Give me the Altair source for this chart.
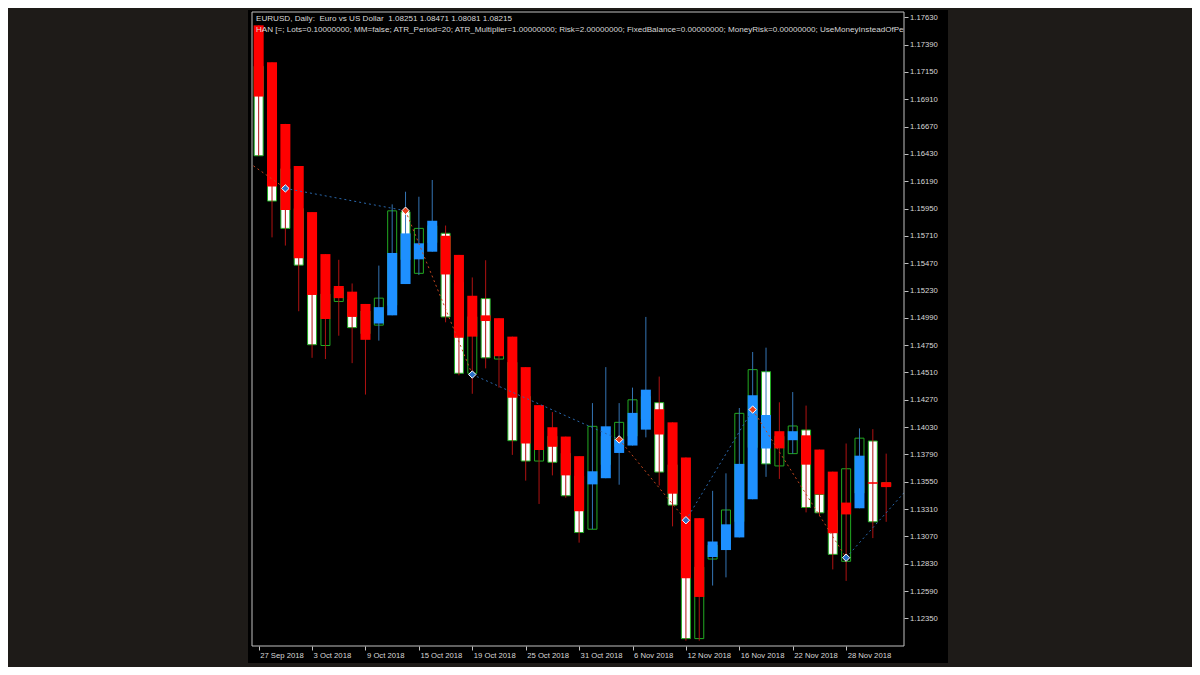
import altair as alt
import pandas as pd

# ---------------- data ----------------
bar_index = list(range(48))

ha_open = [1.17560, 1.17235, 1.16694, 1.16324, 1.15919, 1.15550, 1.15270, 1.15220,
           1.15112, 1.14940, 1.15012, 1.15287, 1.15504, 1.15571, 1.15711, 1.15543,
           1.15184, 1.15012, 1.14987, 1.14825, 1.14557, 1.14223, 1.14029, 1.13947,
           1.13775, 1.13527, 1.13581, 1.13803, 1.13868, 1.14008, 1.14187, 1.14072,
           1.13764, 1.13230, 1.12889, 1.12950, 1.13061, 1.13396, 1.13843, 1.13994,
           1.13915, 1.13958, 1.13833, 1.13639, 1.13367, 1.13317, 1.13546, 1.13546]
ha_close = [1.16934, 1.16145, 1.15937, 1.15514, 1.15191, 1.14980, 1.15163, 1.14998,
            1.14797, 1.15084, 1.15560, 1.15732, 1.15645, 1.15843, 1.15371, 1.14815,
            1.14825, 1.14962, 1.14653, 1.14288, 1.13886, 1.13829, 1.13857, 1.13606,
            1.13291, 1.13642, 1.14037, 1.13922, 1.14155, 1.14359, 1.13965, 1.13445,
            1.12703, 1.12538, 1.13025, 1.13176, 1.13707, 1.14309, 1.14137, 1.13843,
            1.13994, 1.13700, 1.13439, 1.13098, 1.13263, 1.13779, 1.13532, 1.13503]
ha_high = [1.17560, 1.17235, 1.16694, 1.16324, 1.15919, 1.15550, 1.15500, 1.15292,
           1.15112, 1.15449, 1.15987, 1.16098, 1.16054, 1.16201, 1.15801, 1.15543,
           1.15345, 1.15496, 1.14987, 1.14825, 1.14557, 1.14223, 1.14162, 1.13947,
           1.13775, 1.14241, 1.14557, 1.14241, 1.14377, 1.14998, 1.14474, 1.14072,
           1.13764, 1.13230, 1.13470, 1.13624, 1.14198, 1.14690, 1.14728, 1.14248,
           1.14338, 1.14219, 1.13833, 1.13639, 1.13886, 1.14019, 1.14012, 1.13797]
ha_low = [1.16414, 1.15697, 1.15625, 1.15048, 1.14639, 1.14628, 1.14833, 1.14592,
          1.14316, 1.14790, 1.15012, 1.15287, 1.15366, 1.15571, 1.14951, 1.14485,
          1.14323, 1.14546, 1.14377, 1.13786, 1.13560, 1.13355, 1.13606, 1.13409,
          1.13015, 1.13133, 1.13581, 1.13524, 1.13868, 1.13940, 1.13517, 1.13158,
          1.12154, 1.12154, 1.12638, 1.12710, 1.13061, 1.13396, 1.13593, 1.13575,
          1.13797, 1.13281, 1.13252, 1.12780, 1.12679, 1.13317, 1.13055, 1.13198]
candle_open = [1.17200, 1.16800, 1.16300, 1.15950, 1.15500, 1.14747, 1.15134, 1.15150,
               1.15050, 1.14926, 1.15100, 1.15922, 1.15381, 1.15650, 1.15733, 1.15300,
               1.14503, 1.15159, 1.14628, 1.14600, 1.14300, 1.13732, 1.13950, 1.13800,
               1.13600, 1.13133, 1.13700, 1.13860, 1.13950, 1.14100, 1.14245, 1.13700,
               1.13300, 1.12172, 1.12871, 1.13000, 1.13200, 1.13850, 1.14517, 1.13689,
               1.13797, 1.14005, 1.13439, 1.13300, 1.12851, 1.13450, 1.13908, 1.13540]
candle_close = [1.16414, 1.16016, 1.15776, 1.15453, 1.14754, 1.15200, 1.15250, 1.14904,
                1.14850, 1.15163, 1.15930, 1.15500, 1.15776, 1.15800, 1.14998, 1.14503,
                1.15000, 1.14639, 1.14900, 1.13911, 1.13732, 1.14000, 1.13721, 1.13427,
                1.13104, 1.14037, 1.13950, 1.14072, 1.14270, 1.14300, 1.13635, 1.13345,
                1.12172, 1.12800, 1.12994, 1.13302, 1.14151, 1.14535, 1.13707, 1.13950,
                1.14040, 1.13324, 1.13277, 1.12912, 1.13664, 1.13933, 1.13198, 1.13510]

swing_index = [-1, 2, 11, 16, 27, 32, 37, 44, 49]
swing_price = [1.16376, 1.16127, 1.15931, 1.14492, 1.13922, 1.13212, 1.14184, 1.12883, 1.13541]
swing_kind = ["high", "low", "high", "low", "high", "low", "high", "low", "high"]

date_ticks = [0, 4, 8, 12, 16, 20, 24, 28, 32, 36, 40, 44]
date_labels = ["27 Sep 2018", "3 Oct 2018", "9 Oct 2018", "15 Oct 2018", "19 Oct 2018",
               "25 Oct 2018", "31 Oct 2018", "6 Nov 2018", "12 Nov 2018", "16 Nov 2018",
               "22 Nov 2018", "28 Nov 2018"]
price_ticks = [1.17630, 1.17390, 1.17150, 1.16910, 1.16670, 1.16430, 1.16190, 1.15950,
               1.15710, 1.15470, 1.15230, 1.14990, 1.14750, 1.14510, 1.14270, 1.14030,
               1.13790, 1.13550, 1.13310, 1.13070, 1.12830, 1.12590, 1.12350]

header_lines = [
    "EURUSD, Daily:\u00a0\u00a0Euro vs US Dollar\u00a0\u00a01.08251 1.08471 1.08081 1.08215",
    "HAN [=; Lots=0.10000000; MM=false; ATR_Period=20; ATR_Multiplier=1.00000000; Risk=2.00000000; "
    "FixedBalance=0.00000000; MoneyRisk=0.00000000; UseMoneyInsteadOfPer",
]

# ---------------- styling ----------------
W, H = 652, 634
X_DOMAIN = [-0.125, 47.96]
Y_DOMAIN = [1.12107, 1.17677]
FONT = "Liberation Sans"
TXT = "#d8d8d8"
RED, BLUE = "#ff0000", "#1e90ff"
RED_WICK, BLUE_WICK = "#b01212", "#3474b4"
GREEN = "#22aa22"

bars = pd.DataFrame({
    "i": bar_index, "ho": ha_open, "hc": ha_close, "hh": ha_high, "hl": ha_low,
    "co": candle_open, "cc": candle_close,
})
bars["body_col"] = [BLUE if c > o else RED for o, c in zip(ha_open, ha_close)]
bars["wick_col"] = [BLUE_WICK if c > o else RED_WICK for o, c in zip(ha_open, ha_close)]
bars["candle_fill"] = ["#000000" if c > o else "#ffffff" for o, c in zip(candle_open, candle_close)]

seg = pd.DataFrame({
    "i0": swing_index[:-1], "p0": swing_price[:-1],
    "i1": swing_index[1:], "p1": swing_price[1:],
    "col": ["#c4471f" if k == "high" else "#2a68ad" for k in swing_kind[:-1]],
})
pts = pd.DataFrame({
    "i": swing_index, "p": swing_price,
    "col": ["#e8401c" if k == "high" else "#2a70c8" for k in swing_kind],
})

x_axis = alt.Axis(values=date_ticks, labelExpr="%s[round(datum.value/4)]" % str(date_labels),
                  orient="bottom", tickSize=4, tickColor="#c0c0c0", domain=False, grid=False,
                  labelAlign="left", labelOffset=1, labelPadding=1, labelFont=FONT, labelFontSize=7.7,
                  labelColor=TXT, labelFlush=False, labelOverlap=False, title=None, zindex=1)
y_axis = alt.Axis(values=price_ticks, format=".5f", orient="right", tickSize=4,
                  tickColor="#c0c0c0", domain=False, grid=False, labelPadding=1.5,
                  labelFont=FONT, labelFontSize=7.7, labelColor=TXT, labelOverlap=False,
                  labelFlush=False, title=None, zindex=1)
xs = alt.Scale(domain=X_DOMAIN, nice=False, zero=False)
ys = alt.Scale(domain=Y_DOMAIN, nice=False, zero=False)

window = alt.Chart(pd.DataFrame({"a": [0]})).mark_rect(color="#000000").encode(
    x=alt.value(-4), x2=alt.value(696), y=alt.value(-2), y2=alt.value(651))

candles = alt.Chart(bars).mark_bar(size=9, stroke=GREEN, strokeWidth=1, clip=True).encode(
    x=alt.X("i:Q", scale=xs, axis=x_axis),
    y=alt.Y("co:Q", scale=ys, axis=y_axis),
    y2="cc:Q",
    fill=alt.Fill("candle_fill:N", scale=None),
)
wicks = alt.Chart(bars).mark_rule(strokeWidth=1, clip=True).encode(
    x=alt.X("i:Q", scale=xs, axis=x_axis),
    y=alt.Y("hh:Q", scale=ys, axis=y_axis),
    y2="hl:Q",
    color=alt.Color("wick_col:N", scale=None),
)
bodies = alt.Chart(bars).mark_bar(size=10, clip=True).encode(
    x=alt.X("i:Q", scale=xs, axis=x_axis),
    y=alt.Y("ho:Q", scale=ys, axis=y_axis),
    y2="hc:Q",
    color=alt.Color("body_col:N", scale=None),
)
zigzag = alt.Chart(seg).mark_rule(strokeWidth=1, strokeDash=[2, 3], clip=True).encode(
    x=alt.X("i0:Q", scale=xs, axis=x_axis), x2="i1:Q",
    y=alt.Y("p0:Q", scale=ys, axis=y_axis), y2="p1:Q",
    color=alt.Color("col:N", scale=None),
)
diamonds = alt.Chart(pts).mark_point(shape="diamond", filled=True, size=55, stroke="#ffffff",
                                     strokeWidth=1, opacity=1, clip=True).encode(
    x=alt.X("i:Q", scale=xs, axis=x_axis),
    y=alt.Y("p:Q", scale=ys, axis=y_axis),
    fill=alt.Fill("col:N", scale=None),
)
header1 = alt.Chart(pd.DataFrame({"t": [header_lines[0]]})).mark_text(
    align="left", baseline="middle", font=FONT, fontSize=8.1, color=TXT, clip=True).encode(
    text="t:N", x=alt.value(4), y=alt.value(6.5))
header2 = alt.Chart(pd.DataFrame({"t": [header_lines[1]]})).mark_text(
    align="left", baseline="middle", font=FONT, fontSize=8.1, color=TXT, clip=True).encode(
    text="t:N", x=alt.value(4), y=alt.value(17.5))
frame = alt.Chart(pd.DataFrame({"a": [0]})).mark_rect(
    fillOpacity=0, stroke="#c0c0c0", strokeWidth=1).encode(
    x=alt.value(0), x2=alt.value(W), y=alt.value(0), y2=alt.value(H))

chart = alt.layer(window, candles, wicks, bodies, zigzag, diamonds, header1, header2, frame
).properties(
    width=W, height=H,
    autosize=alt.AutoSizeParams(type="none"),
    padding={"left": 244, "top": 4, "right": 288, "bottom": 21},
    background="#1e1b18",
).configure_view(strokeWidth=0)

chart.save("out.html", embed_options={"renderer": "svg", "actions": False})
